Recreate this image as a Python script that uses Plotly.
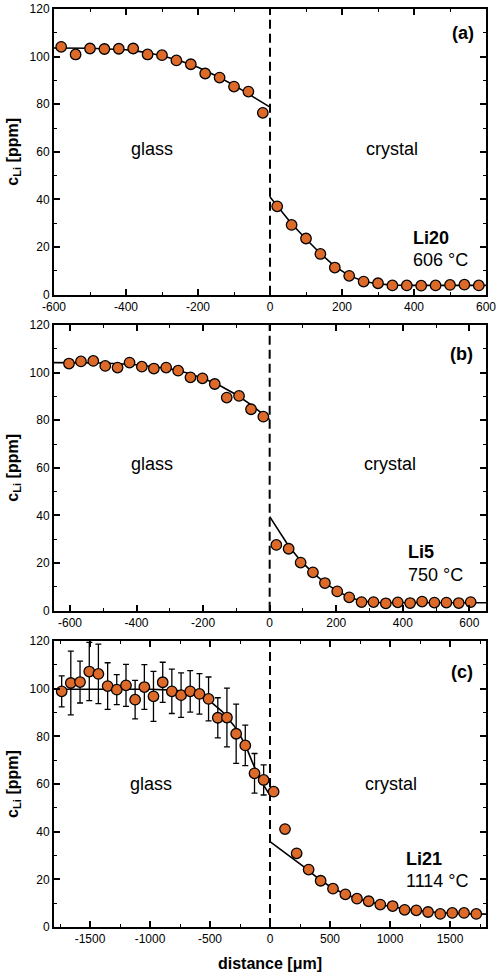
import plotly.graph_objects as go

# ---------------- data ----------------
# Panel (a)  Li20, 606 °C
a_glass_x = [-580, -540, -500, -460, -420, -380, -340, -300, -260, -220, -180, -140, -100, -60, -20]
a_glass_y = [104.1, 100.9, 103.4, 103.2, 103.3, 103.4, 100.9, 100.6, 98.4, 96.8, 92.9, 91.2, 87.4, 85.3, 76.4]
a_cryst_x = [20, 60, 100, 140, 180, 220, 260, 300, 340, 380, 420, 460, 500, 540, 580]
a_cryst_y = [37.1, 29.3, 23.6, 17.1, 11.4, 7.9, 5.5, 4.8, 3.9, 3.9, 3.8, 3.9, 4.1, 4.2, 3.9]
a_fitg_x = [-600, -500, -400, -350, -300, -250, -200, -150, -100, -50, 0]
a_fitg_y = [103.6, 103.5, 102.9, 101.9, 100.4, 98.3, 95.5, 92.0, 88.0, 83.5, 78.8]
a_fitc_x = [0, 20, 60, 100, 140, 180, 220, 260, 300, 350, 400, 600]
a_fitc_y = [41.0, 37.3, 29.8, 23.4, 17.3, 11.9, 8.0, 5.6, 4.5, 4.0, 3.9, 3.9]

# Panel (b)  Li5, 750 °C
b_glass_x = [-603, -567, -530, -494, -457, -421, -384, -348, -311, -275, -238, -202, -165, -129, -92, -56, -19]
b_glass_y = [103.8, 104.7, 104.9, 102.8, 102.1, 104.2, 102.5, 101.7, 102.1, 100.8, 98.0, 97.6, 95.2, 89.5, 90.2, 84.6, 81.5]
b_cryst_x = [20, 57, 93, 130, 166, 203, 239, 276, 312, 349, 385, 422, 458, 495, 531, 568, 604]
b_cryst_y = [27.6, 26.0, 20.2, 16.1, 11.6, 8.1, 5.6, 3.6, 3.6, 3.1, 3.5, 3.2, 3.8, 3.4, 3.4, 3.2, 3.6]
b_fitg_x = [-650, -500, -400, -300, -250, -200, -150, -100, -50, 0]
b_fitg_y = [104.2, 104.0, 103.3, 101.6, 99.9, 97.6, 94.6, 90.7, 85.9, 80.2]
b_fitc_x = [0, 30, 57, 93, 130, 166, 203, 240, 275, 320, 400, 650]
b_fitc_y = [39.5, 33.3, 27.2, 21.0, 15.9, 11.7, 8.2, 5.6, 4.1, 3.4, 3.3, 3.3]

# Panel (c)  Li21, 1114 °C
c_glass_x = [-1736, -1660, -1583, -1506, -1430, -1353, -1277, -1200, -1124, -1047, -971, -894,
             -818, -741, -665, -588, -512, -435, -359, -282, -206, -129, -53]
c_glass_y = [98.9, 102.4, 102.8, 107.2, 106.2, 101.1, 99.6, 101.4, 95.4, 100.7, 96.8, 102.7,
             98.9, 97.3, 98.9, 97.8, 95.7, 87.8, 87.9, 81.1, 76.2, 64.5, 61.7]
c_glass_err = [6.5, 13.4, 8.8, 12.2, 12.5, 9.8, 6.3, 8.8, 8.1, 9.4, 10.5, 8.4,
               9.3, 9.3, 8.7, 8.5, 9.2, 8.4, 12.3, 12.4, 8.5, 8.3, 6.3]
c_cryst_x = [30, 125, 222, 322, 422, 525, 628, 725, 822, 919, 1022, 1122, 1219, 1317, 1419, 1519, 1617, 1719]
c_cryst_y = [56.8, 41.1, 30.9, 24.1, 19.4, 16.1, 13.7, 11.9, 10.8, 9.4, 8.8, 7.2, 7.0, 6.3, 5.5, 5.9, 5.9, 5.5]
c_fitg_x = [-1800, -1000, -800, -700, -600, -500, -400, -300, -250, -200, -150, -100, -50, 0]
c_fitg_y = [99.8, 99.8, 99.4, 98.6, 97.2, 94.8, 90.5, 84.5, 80.5, 75.8, 69.5, 63.8, 59.2, 55.3]
c_fitc_x = [0, 100, 200, 300, 400, 500, 600, 700, 800, 900, 1000, 1100, 1200, 1300, 1400, 1500, 1600, 1800]
c_fitc_y = [35.8, 32.0, 28.3, 24.6, 20.4, 17.0, 14.4, 12.4, 10.9, 9.6, 8.6, 7.8, 7.1, 6.5, 6.1, 5.8, 5.6, 5.4]

panel_labels = ["(a)", "(b)", "(c)"]
sample_names = ["Li20", "Li5", "Li21"]
temperatures = ["606 °C", "750 °C", "1114 °C"]

x_tickvals_ab = [-600, -400, -200, 0, 200, 400, 600]
x_ticktext_ab = ["-600", "-400", "-200", "0", "200", "400", "600"]
x_tickvals_c = [-1500, -1000, -500, 0, 500, 1000, 1500]
x_ticktext_c = ["-1500", "-1000", "-500", "0", "500", "1000", "1500"]
y_tickvals = [0, 20, 40, 60, 80, 100, 120]
y_ticktext = ["0", "20", "40", "60", "80", "100", "120"]

# ---------------- styling ----------------
FONT = "Liberation Sans, Arial, sans-serif"
ORANGE = "#DE6A29"
marker = dict(size=10.5, color=ORANGE, line=dict(color="black", width=1.3))

fig = go.Figure()

panels = [
    ("x", "y", a_glass_x, a_glass_y, None, a_cryst_x, a_cryst_y, a_fitg_x, a_fitg_y, a_fitc_x, a_fitc_y),
    ("x2", "y2", b_glass_x, b_glass_y, None, b_cryst_x, b_cryst_y, b_fitg_x, b_fitg_y, b_fitc_x, b_fitc_y),
    ("x3", "y3", c_glass_x, c_glass_y, c_glass_err, c_cryst_x, c_cryst_y, c_fitg_x, c_fitg_y, c_fitc_x, c_fitc_y),
]

for xa, ya, gx, gy, ge, cx, cy, fgx, fgy, fcx, fcy in panels:
    fig.add_trace(go.Scatter(x=fgx, y=fgy, mode="lines", line=dict(color="black", width=1.6),
                             xaxis=xa, yaxis=ya, showlegend=False, hoverinfo="skip"))
    fig.add_trace(go.Scatter(x=fcx, y=fcy, mode="lines", line=dict(color="black", width=1.6),
                             xaxis=xa, yaxis=ya, showlegend=False, hoverinfo="skip"))
    err = None
    if ge is not None:
        err = dict(type="data", array=ge, visible=True, color="black", thickness=1.3, width=3)
    fig.add_trace(go.Scatter(x=gx, y=gy, mode="markers", marker=marker, error_y=err,
                             xaxis=xa, yaxis=ya, showlegend=False))
    fig.add_trace(go.Scatter(x=cx, y=cy, mode="markers", marker=marker,
                             xaxis=xa, yaxis=ya, showlegend=False))

axis_common = dict(
    showline=True, linecolor="black", linewidth=2, mirror="ticks",
    ticks="inside", ticklen=6, tickwidth=1.5, tickcolor="black",
    showgrid=False, zeroline=False,
    tickfont=dict(family=FONT, size=12, color="black"),
)

ydomains = [[0.6888, 1.0], [0.3446, 0.6558], [0.0, 0.3115]]
xranges = [[-600, 600], [-648, 650], [-1800, 1800]]
xminor = [100, 100, 250]
xtv = [x_tickvals_ab, x_tickvals_ab, x_tickvals_c]
xtt = [x_ticktext_ab, x_ticktext_ab, x_ticktext_c]

ytitle = dict(text="<b>c<sub>Li</sub> [ppm]</b>", font=dict(family=FONT, size=16, color="black"), standoff=7)

layout = dict(
    width=500, height=977,
    margin=dict(l=54, r=14, t=9, b=50),
    paper_bgcolor="white", plot_bgcolor="white",
    font=dict(family=FONT, color="black"),
)
for i in range(3):
    sx = "" if i == 0 else str(i + 1)
    layout["xaxis" + sx] = dict(
        axis_common, domain=[0, 1], anchor="y" + sx, range=xranges[i],
        tickmode="array", tickvals=xtv[i], ticktext=xtt[i],
        minor=dict(ticks="inside", ticklen=3, tickwidth=1.3, tickcolor="black", dtick=xminor[i], tick0=0),
        automargin=False, ticklabeloverflow="allow",
    )
    layout["yaxis" + sx] = dict(
        axis_common, domain=ydomains[i], anchor="x" + sx, range=[0, 120],
        tickmode="array", tickvals=y_tickvals, ticktext=y_ticktext,
        minor=dict(ticks="inside", ticklen=3, tickwidth=1.3, tickcolor="black", dtick=10, tick0=0),
        title=ytitle, automargin=False, ticklabeloverflow="allow",
    )
layout["xaxis3"]["title"] = dict(text="<b>distance [μm]</b>", font=dict(family=FONT, size=16, color="black"), standoff=12)

fig.update_layout(**layout)

# dashed interface line at x = 0
for i in range(3):
    sx = "" if i == 0 else str(i + 1)
    fig.add_shape(type="line", xref="x" + sx, yref="y" + sx + " domain", x0=0, x1=0, y0=0, y1=1,
                  line=dict(color="black", width=2, dash="9px,5px"), layer="below")

# text annotations
ann_pos = [
    dict(glass=(-327, 61.3), crystal=(340, 61.3), lab=(535, 110), name=(391, 24.0), temp=(391, 14.6)),
    dict(glass=(-355, 61.6), crystal=(363, 61.6), lab=(576, 108), name=(409, 24.5), temp=(409, 15.0)),
    dict(glass=(-994, 60.2), crystal=(1006, 60.2), lab=(1603, 107), name=(1117, 28.7), temp=(1117, 19.3)),
]
f18 = dict(family=FONT, size=18, color="black")
for i in range(3):
    sx = "" if i == 0 else str(i + 1)
    p = ann_pos[i]
    fig.add_annotation(x=p["glass"][0], y=p["glass"][1], xref="x" + sx, yref="y" + sx, text="glass",
                       showarrow=False, font=f18, xanchor="center", yanchor="middle")
    fig.add_annotation(x=p["crystal"][0], y=p["crystal"][1], xref="x" + sx, yref="y" + sx, text="crystal",
                       showarrow=False, font=f18, xanchor="center", yanchor="middle")
    fig.add_annotation(x=p["lab"][0], y=p["lab"][1], xref="x" + sx, yref="y" + sx,
                       text="<b>" + panel_labels[i] + "</b>",
                       showarrow=False, font=f18, xanchor="center", yanchor="middle")
    fig.add_annotation(x=p["name"][0], y=p["name"][1], xref="x" + sx, yref="y" + sx,
                       text="<b>" + sample_names[i] + "</b>",
                       showarrow=False, font=f18, xanchor="left", yanchor="middle")
    fig.add_annotation(x=p["temp"][0], y=p["temp"][1], xref="x" + sx, yref="y" + sx,
                       text=temperatures[i],
                       showarrow=False, font=f18, xanchor="left", yanchor="middle")

fig.write_html("out.html", config={"displayModeBar": False},
               post_script="document.body.style.margin='0';document.body.style.overflow='hidden';")
